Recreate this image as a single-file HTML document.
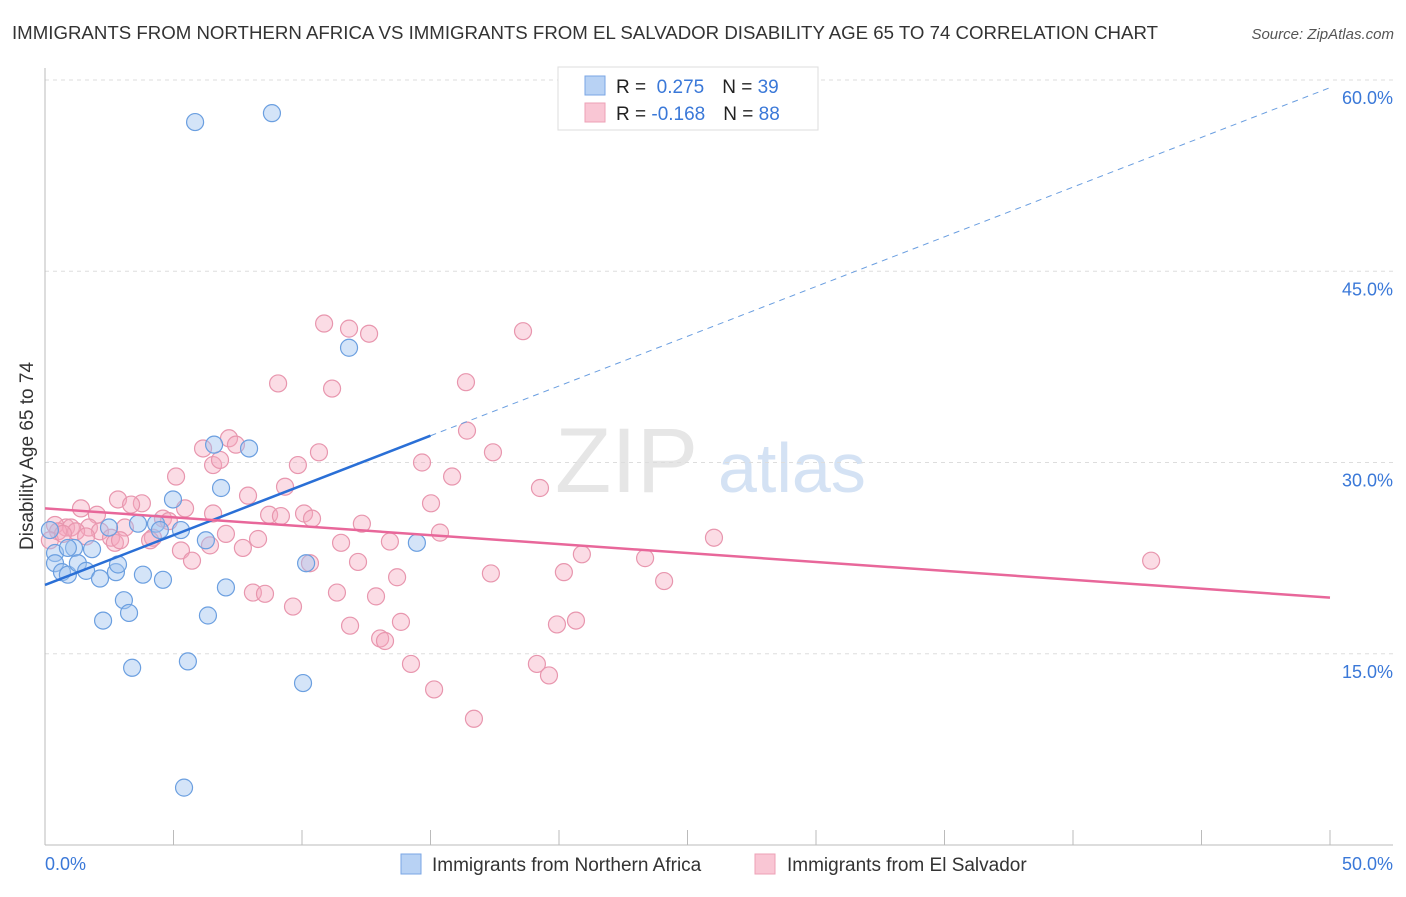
<!DOCTYPE html>
<html><head><meta charset="utf-8"><style>
body{margin:0;background:#fff;font-family:"Liberation Sans",sans-serif;}
svg text{font-family:"Liberation Sans",sans-serif;}
</style></head><body>
<svg width="1406" height="892" viewBox="0 0 1406 892" id="c">
<text x="12" y="39" font-size="18" fill="#333" textLength="1146" lengthAdjust="spacingAndGlyphs">IMMIGRANTS FROM NORTHERN AFRICA VS IMMIGRANTS FROM EL SALVADOR DISABILITY AGE 65 TO 74 CORRELATION CHART</text>
<text x="1394" y="39" font-size="15" fill="#555" text-anchor="end" font-style="italic">Source: ZipAtlas.com</text>
<text x="555" y="492" font-size="92" fill="#e6e6e6" font-family="Liberation Serif">ZIP</text>
<text x="718" y="492" font-size="70" fill="#d4e2f4">atlas</text>
<g id="grid"></g><g id="marks"></g>
<text transform="translate(33,456) rotate(-90)" font-size="19" fill="#333" text-anchor="middle">Disability Age 65 to 74</text>
<text x="45" y="870" font-size="18" fill="#3a78d8">0.0%</text>
<text x="1393" y="870" font-size="18" fill="#3a78d8" text-anchor="end">50.0%</text>
<g>
<rect x="558" y="67" width="260" height="63" fill="#fff" stroke="#ddd"/>
<rect x="585" y="76" width="20" height="19" fill="#b8d2f4" stroke="#7aa6e4"/>
<rect x="585" y="103" width="20" height="19" fill="#f9c6d4" stroke="#eda0b6"/>
<text x="616" y="93" font-size="19" fill="#222">R = <tspan fill="#3a78d8">&#160;0.275</tspan><tspan dx="18">N = </tspan><tspan fill="#3a78d8">39</tspan></text>
<text x="616" y="120" font-size="19" fill="#222">R = <tspan fill="#3a78d8">-0.168</tspan><tspan dx="18">N = </tspan><tspan fill="#3a78d8">88</tspan></text>
</g>
<g>
<rect x="401" y="854" width="20" height="20" fill="#b8d2f4" stroke="#7aa6e4"/>
<text x="432" y="871" font-size="19" fill="#333">Immigrants from Northern Africa</text>
<rect x="755" y="854" width="20" height="20" fill="#f9c6d4" stroke="#eda0b6"/>
<text x="787" y="871" font-size="19" fill="#333">Immigrants from El Salvador</text>
</g>
</svg>
<script>
const yTicks=[15,30,45,60];
const yTickLabels=["15.0%","30.0%","45.0%","60.0%"];
const xTicks=[0,5,10,15,20,25,30,35,40,45,50];
const blueX=[5.84,8.83,11.83,7.94,6.58,6.85,4.98,3.62,4.32,5.29,6.26,2.49,1.83,1.13,0.39,0.39,0.66,0.89,1.28,1.60,2.14,2.76,2.84,3.81,4.59,7.04,3.07,3.27,2.26,6.34,10.16,14.47,3.39,5.56,10.04,5.41,0.19,4.47,0.89];
const blueY=[56.7,57.4,39.0,31.1,31.4,28.0,27.1,25.2,25.2,24.7,23.9,24.9,23.2,23.3,22.9,22.1,21.4,21.2,22.1,21.5,20.9,21.4,22.0,21.2,20.8,20.2,19.2,18.2,17.6,18.0,22.1,23.7,13.9,14.4,12.7,4.5,24.7,24.7,23.3];
const pinkX=[10.86,11.83,12.61,18.60,9.07,11.17,16.38,16.42,7.16,7.43,6.15,10.66,17.43,6.54,6.81,9.84,14.67,5.10,15.84,9.34,19.26,7.90,2.84,3.77,3.35,15.02,1.40,5.45,2.02,6.54,10.08,10.39,8.72,9.18,4.59,4.82,12.33,3.11,1.71,0.82,0.39,1.01,0.51,2.14,1.21,1.60,2.57,2.72,4.20,7.04,8.29,15.37,11.52,13.42,4.09,26.03,5.29,7.70,20.89,23.35,5.72,12.18,10.31,43.04,17.35,13.70,20.19,24.09,11.36,8.09,8.56,12.88,9.65,13.85,11.87,20.66,19.92,13.04,13.23,14.24,19.14,19.61,15.14,16.69,0.19,0.70,6.42,2.92];
const pinkY=[40.9,40.5,40.1,40.3,36.2,35.8,36.3,32.5,31.9,31.4,31.1,30.8,30.8,29.8,30.2,29.8,30.0,28.9,28.9,28.1,28.0,27.4,27.1,26.8,26.7,26.8,26.4,26.4,25.9,26.0,26.0,25.6,25.9,25.8,25.6,25.4,25.2,24.9,24.9,24.9,25.1,24.9,24.6,24.6,24.6,24.2,24.1,23.7,24.1,24.4,24.0,24.5,23.7,23.8,23.9,24.1,23.1,23.3,22.8,22.5,22.3,22.2,22.1,22.3,21.3,21.0,21.4,20.7,19.8,19.8,19.7,19.5,18.7,17.5,17.2,17.6,17.3,16.2,16.0,14.2,14.2,13.3,12.2,9.9,23.9,24.4,23.5,23.9];
const blueTrend=[20.4,59.4];
const blueSolidEnd=15;
const pinkTrend=[26.4,19.4];
const NS="http://www.w3.org/2000/svg";
const xs=v=>45+v*25.7, ys=v=>845-v*12.75;
function mk(p,t,a){const e=document.createElementNS(NS,t);for(const k in a)e.setAttribute(k,a[k]);p.appendChild(e);return e;}
const g=document.getElementById('grid'),m=document.getElementById('marks');
yTicks.forEach((t,i)=>{
 const l=mk(g,'line',{x1:45,x2:1393,y1:ys(t),y2:ys(t),stroke:'#ddd','stroke-dasharray':'4,4'});
 
 
 const tx=mk(g,'text',{x:1393,y:ys(t)+24,'font-size':18,fill:'#3a78d8','text-anchor':'end'});
 tx.textContent=yTickLabels[i];
 
 
});
const ax=mk(g,'line',{x1:45,x2:1393,y1:845,y2:845,stroke:'#bbb'});


const ay=mk(g,'line',{x1:45,x2:45,y1:68,y2:845,stroke:'#bbb'});


xTicks.forEach(t=>{const l=mk(g,'line',{x1:xs(t),x2:xs(t),y1:830,y2:845,stroke:'#bbb'});
 
 });
function dots(X,Y,fill,stroke,name){X.forEach((x,i)=>{const c=mk(m,'circle',{cx:xs(x),cy:ys(Y[i]),r:8.5,fill:fill,stroke:stroke,'stroke-width':1.2});
 
 });}
dots(pinkX,pinkY,'rgba(245,168,190,0.4)','#e896ae','pink-point');
dots(blueX,blueY,'rgba(160,196,240,0.45)','#6b9fe0','blue-point');
const by=x=>blueTrend[0]+(blueTrend[1]-blueTrend[0])*x/50;
const b1=mk(m,'line',{x1:xs(0),y1:ys(by(0)),x2:xs(blueSolidEnd),y2:ys(by(blueSolidEnd)),stroke:'#2a6fd6','stroke-width':2.5});


const b2=mk(m,'line',{x1:xs(blueSolidEnd),y1:ys(by(blueSolidEnd)),x2:xs(50),y2:ys(by(50)),stroke:'#6a9ee0','stroke-width':1,'stroke-dasharray':'6,5'});


const p1=mk(m,'line',{x1:xs(0),y1:ys(pinkTrend[0]),x2:xs(50),y2:ys(pinkTrend[1]),stroke:'#e8679a','stroke-width':2.5});


</script>
</body></html>
